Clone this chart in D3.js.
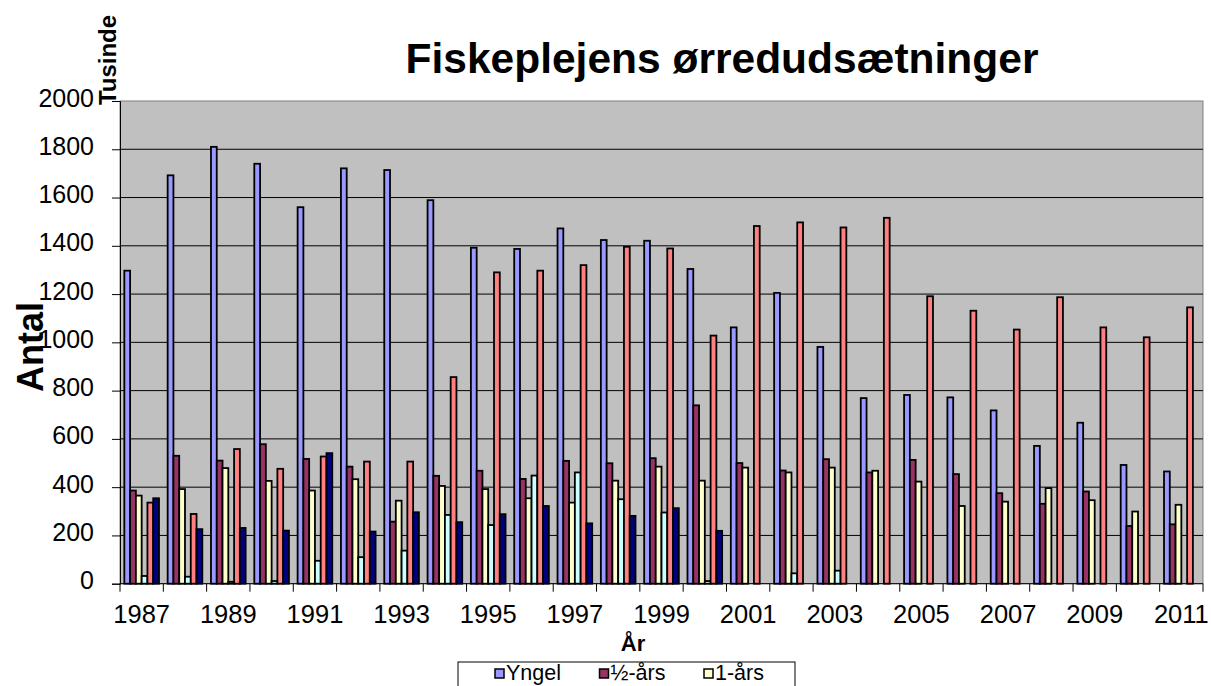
<!DOCTYPE html>
<html>
<head>
<meta charset="utf-8">
<script src="https://cdn.jsdelivr.net/npm/d3@7"></script>
<style>
  body { margin: 0; background: #fff; }
  text { font-family: "Liberation Sans", Arial, sans-serif; }
</style>
</head>
<body>
<svg id="chart" width="1211" height="686"></svg>
<script>
// years on the category axis
const years = d3.range(1987, 2012);

// values in thousands
const yngel     = [1297, 1692, 1810, 1740, 1560, 1721, 1714, 1589, 1392, 1387, 1472, 1424, 1421, 1304, 1062, 1205, 981, 769, 782, 772, 718, 571, 667, 492, 465];
const halvaars  = [386, 530, 510, 578, 517, 485, 257, 447, 468, 434, 509, 499, 520, 739, 500, 469, 516, 461, 513, 454, 375, 331, 382, 239, 246];
const etaars    = [365, 392, 479, 426, 386, 433, 344, 405, 392, 354, 336, 427, 485, 427, 481, 461, 481, 468, 423, 322, 340, 396, 346, 299, 327];
const serie4    = [32, 29, 8, 11, 95, 110, 137, 285, 243, 448, 461, 350, 295, 11, 0, 43, 54, 0, 0, 0, 0, 0, 0, 0, 0];
const serie5    = [336, 289, 558, 476, 527, 506, 506, 856, 1290, 1297, 1320, 1396, 1389, 1028, 1482, 1497, 1476, 1516, 1191, 1131, 1053, 1187, 1062, 1021, 1145];
const serie6    = [354, 226, 231, 220, 541, 216, 296, 255, 288, 322, 250, 281, 313, 219, 0, 0, 0, 0, 0, 0, 0, 0, 0, 0, 0];

const seriesKeys = ["yngel", "halvaars", "etaars", "serie4", "serie5", "serie6"];
const seriesVals = [yngel, halvaars, etaars, serie4, serie5, serie6];
const seriesColors = ["#9999FF", "#993366", "#FFFFCC", "#CCFFFF", "#FF8080", "#000080"];
// only the first row of the legend is inside the picture
const legendNames = ["Yngel", "½-års", "1-års"];

const yTicks = d3.range(0, 2001, 200);
const xLabelYears = years.filter((d, i) => i % 2 === 0);

const svg = d3.select("#chart");
const plotL = 120, plotR = 1203, plotT = 101, plotB = 583.7;

const x0 = d3.scaleBand().domain(years).range([plotL, plotR]).padding(0);
const x1 = d3.scaleBand().domain(seriesKeys).range([0, x0.bandwidth()])
  .paddingInner(0).paddingOuter(0.75);
const y = d3.scaleLinear().domain([0, 2000]).range([plotB, plotT]);

// plot area
svg.append("rect")
  .attr("x", plotL).attr("y", plotT)
  .attr("width", plotR - plotL).attr("height", plotB - plotT)
  .attr("fill", "#C0C0C0")
  .attr("stroke", "#808080").attr("stroke-width", 1);

// gridlines
svg.append("g").selectAll("line")
  .data(yTicks.filter(d => d > 0 && d < 2000))
  .join("line")
  .attr("x1", plotL).attr("x2", plotR)
  .attr("y1", d => y(d)).attr("y2", d => y(d))
  .attr("stroke", "#000").attr("stroke-width", 1);

// bars
const rows = [];
years.forEach((yr, i) => {
  seriesKeys.forEach((k, j) => rows.push({ year: yr, key: k, value: seriesVals[j][i], color: seriesColors[j] }));
});
svg.append("g").selectAll("rect")
  .data(rows.filter(d => d.value > 0))
  .join("rect")
  .attr("x", d => x0(d.year) + x1(d.key))
  .attr("y", d => y(d.value))
  .attr("width", x1.bandwidth())
  .attr("height", d => y(0) - y(d.value))
  .attr("fill", d => d.color)
  .attr("stroke", "#000").attr("stroke-width", 1.8);

// y axis
const yAxis = svg.append("g")
  .attr("transform", `translate(${plotL},0)`)
  .call(d3.axisLeft(y).tickValues(yTicks).tickFormat(d3.format("d")).tickSize(8).tickPadding(18));
yAxis.selectAll("text").attr("font-size", 25).attr("fill", "#000").attr("dy", "0.2em")
  .attr("font-family", "Liberation Sans, Arial, sans-serif");
yAxis.selectAll("line, path").attr("stroke", "#000");

// x axis: labels centred on every second year, ticks on the category borders
const xAxis = svg.append("g")
  .attr("transform", `translate(0,${plotB})`)
  .call(d3.axisBottom(x0).tickValues(xLabelYears).tickSize(0).tickPadding(21.5));
xAxis.select(".domain").remove();
xAxis.selectAll("text").attr("font-size", 25.5).attr("fill", "#000")
  .attr("font-family", "Liberation Sans, Arial, sans-serif");

const borders = years.map(d => x0(d)).concat([plotR]);
svg.append("g").selectAll("line")
  .data(borders)
  .join("line")
  .attr("x1", d => d).attr("x2", d => d)
  .attr("y1", plotB).attr("y2", plotB + 8)
  .attr("stroke", "#000");
svg.append("line")
  .attr("x1", plotL).attr("x2", plotR)
  .attr("y1", plotB).attr("y2", plotB)
  .attr("stroke", "#000");

// titles
svg.append("text")
  .attr("x", 722).attr("y", 73)
  .attr("text-anchor", "middle")
  .attr("font-size", 42.5).attr("font-weight", "bold")
  .text("Fiskeplejens ørredudsætninger");

svg.append("text")
  .attr("transform", "translate(116,60) rotate(-90)")
  .attr("text-anchor", "middle")
  .attr("font-size", 24).attr("font-weight", "bold")
  .text("Tusinde");

svg.append("text")
  .attr("transform", "translate(43,347) rotate(-90)")
  .attr("text-anchor", "middle")
  .attr("font-size", 36).attr("font-weight", "bold")
  .text("Antal");

svg.append("text")
  .attr("x", 633).attr("y", 651)
  .attr("text-anchor", "middle")
  .attr("font-size", 22).attr("font-weight", "bold")
  .text("År");

// legend (box runs past the bottom edge, as in the picture)
const legend = svg.append("g");
legend.append("rect")
  .attr("x", 458).attr("y", 662)
  .attr("width", 337).attr("height", 60)
  .attr("fill", "#fff").attr("stroke", "#000");
const item = legend.selectAll("g.item")
  .data(legendNames)
  .join("g")
  .attr("class", "item")
  .attr("transform", (d, i) => `translate(${495 + i * 104.5},0)`);
item.append("rect")
  .attr("x", 0).attr("y", 669)
  .attr("width", 9).attr("height", 9)
  .attr("fill", (d, i) => seriesColors[i])
  .attr("stroke", "#000").attr("stroke-width", 1.5);
item.append("text")
  .attr("x", 11).attr("y", 680)
  .attr("font-size", 21.5)
  .text(d => d);
</script>
</body>
</html>
